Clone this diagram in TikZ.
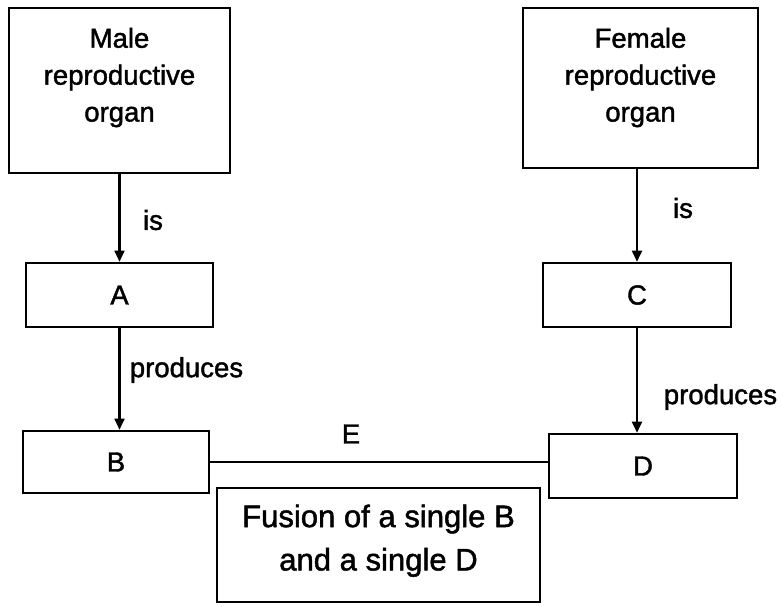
\documentclass[tikz,border=0pt]{standalone}
\usepackage{fontspec}
\setmainfont{Liberation Sans}
\newfontfamily\scanfont{Liberation Sans}[FakeBold=1.5]
\usetikzlibrary{arrows.meta}

\begin{document}
\begin{tikzpicture}[x=0.03cm, y=-0.03cm, line width=2pt,
    box/.style={draw, black, inner sep=0pt, align=center, font=\scanfont\fontsize{23.5}{31.5}\selectfont},
    lbl/.style={inner sep=0pt, font=\scanfont\fontsize{23.5}{31.5}\selectfont},
    arr/.style={-{Triangle[length=0.34cm,width=0.3cm]}}]
          \useasboundingbox (0,0) rectangle (783,606); % page size

          \node [box, minimum width=6.63cm, minimum height=4.95cm, text depth=0.95cm] (male) at (119.5,90.5) {Male\\reproductive\\organ}; % top left box
          \node [box, minimum width=7.05cm, minimum height=4.8cm, text depth=0.8cm] (female) at (640.5,88) {Female\\reproductive\\organ}; % top right box

          \node [box, minimum width=5.61cm, minimum height=1.92cm] (A) at (119.5,295) {A};
          \node [box, minimum width=5.64cm, minimum height=1.92cm] (C) at (637,295) {C};

          \node [box, minimum width=5.58cm, minimum height=1.86cm] (B) at (116,462) {B};
          \node [box, minimum width=5.64cm, minimum height=1.92cm] (D) at (643,466) {D};

          \node [box, minimum width=9.69cm, minimum height=3.42cm, text depth=0.45cm, font=\scanfont\fontsize{26.5}{37}\selectfont] (fusion) at (378.5,545) {Fusion of a single B\\and a single D}; % bottom box

          \node [lbl] (isM) at (153,220) {is};
          \node [lbl] (isF) at (683,208) {is};
          \node [lbl] (prodA) at (186.5,370) {produces};
          \node [lbl] (prodC) at (720.5,397) {produces};
          \node [lbl] (labE) at (351,434) {E};

          \draw [arr] (male.south) -- (A.north);
          \draw [arr] (female.south -| C.north) -- (C.north);

          \draw [arr] (A.south) -- (A.south |- B.north);
          \draw [arr] (C.south) -- (C.south |- D.north);

          \draw (B.east) -- (B.east -| D.west); % joins B and D
\end{tikzpicture}
\end{document}
